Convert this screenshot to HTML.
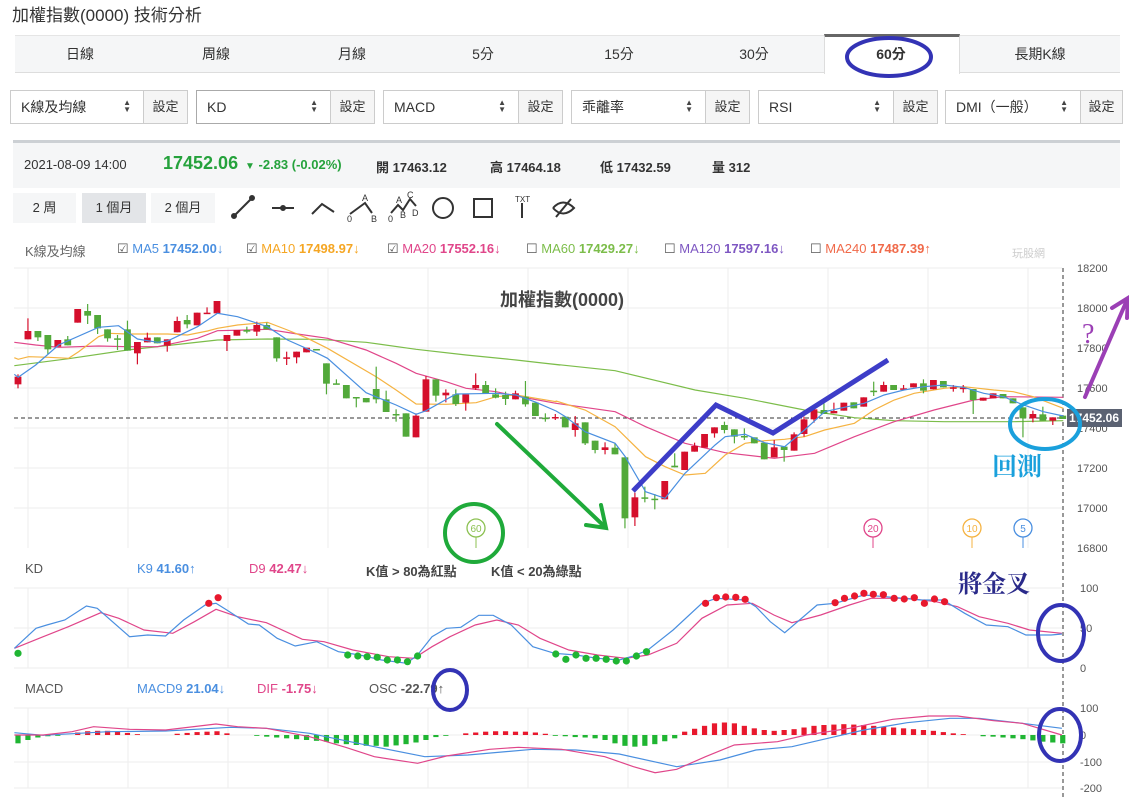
<!DOCTYPE html>
<html><head><meta charset="utf-8">
<style>
*{margin:0;padding:0;box-sizing:border-box}
body{width:1129px;height:797px;background:#fff;font-family:"Liberation Sans","Noto Sans CJK TC",sans-serif;color:#333;position:relative;overflow:hidden}
.a{position:absolute;white-space:nowrap}
.tab{position:absolute;top:35px;height:38px;line-height:38px;text-align:center;font-size:14px;color:#333}
.sel{position:absolute;top:90px;height:34px;border:1px solid #ccc;font-size:14px;line-height:32px;padding-left:10px;background:#fff}
.btn{position:absolute;top:90px;height:34px;border:1px solid #ccc;font-size:13px;line-height:32px;text-align:center;background:#f5f5f5;width:45px}
.arr{position:absolute;right:12px;top:8px;font-size:8px;line-height:7px;color:#444}
</style></head><body>
<div class="a" style="left:12px;top:1px;font-size:17px;color:#333">加權指數(0000) 技術分析</div>
<div class="a" style="left:15px;top:35px;width:1105px;height:38px;background:#f5f6f7;border-bottom:1px solid #ddd;border-top:1px solid #e5e5e5"></div>
<div class="a" style="left:824px;top:34px;width:136px;height:40px;background:#fff;border-top:3px solid #666;border-left:1px solid #ddd;border-right:1px solid #ddd"></div>
<div class="tab" style="left:15px;width:130px">日線</div>
<div class="tab" style="left:151px;width:130px">周線</div>
<div class="tab" style="left:287px;width:130px">月線</div>
<div class="tab" style="left:418px;width:130px">5分</div>
<div class="tab" style="left:554px;width:130px">15分</div>
<div class="tab" style="left:689px;width:130px">30分</div>
<div class="tab" style="left:826px;width:130px;font-weight:bold">60分</div>
<div class="tab" style="left:975px;width:130px">長期K線</div>

<div class="sel" style="left:10px;width:134px">K線及均線<span class="arr">▲<br>▼</span></div><div class="btn" style="left:143px">設定</div>
<div class="sel" style="left:196px;width:135px;border-color:#aaa">KD<span class="arr">▲<br>▼</span></div><div class="btn" style="left:330px">設定</div>
<div class="sel" style="left:383px;width:136px">MACD<span class="arr">▲<br>▼</span></div><div class="btn" style="left:518px">設定</div>
<div class="sel" style="left:571px;width:135px">乖離率<span class="arr">▲<br>▼</span></div><div class="btn" style="left:705px">設定</div>
<div class="sel" style="left:758px;width:136px">RSI<span class="arr">▲<br>▼</span></div><div class="btn" style="left:893px">設定</div>
<div class="sel" style="left:945px;width:136px">DMI（一般）<span class="arr">▲<br>▼</span></div><div class="btn" style="left:1080px;width:43px">設定</div>

<div class="a" style="left:13px;top:140px;width:1107px;height:48px;background:#f5f6f7;border-top:3px solid #ccd0d4"></div>
<div class="a" style="left:24px;top:157px;font-size:13px">2021-08-09 14:00</div>
<div class="a" style="left:163px;top:153px;font-size:18px;font-weight:bold;color:#25a23c">17452.06</div>
<div class="a" style="left:245px;top:157px;font-size:13px;color:#25a23c;font-weight:bold"><span style="font-size:10px">▼</span> -2.83 (-0.02%)</div>
<div class="a" style="left:376px;top:157px;font-size:13px;font-weight:bold">開 17463.12</div>
<div class="a" style="left:490px;top:157px;font-size:13px;font-weight:bold">高 17464.18</div>
<div class="a" style="left:600px;top:157px;font-size:13px;font-weight:bold">低 17432.59</div>
<div class="a" style="left:712px;top:157px;font-size:13px;font-weight:bold">量 312</div>

<div class="a" style="left:13px;top:193px;width:63px;height:30px;background:#f5f6f7;font-size:13px;line-height:30px;text-align:center">2 周</div>
<div class="a" style="left:82px;top:193px;width:64px;height:30px;background:#e3e5e8;font-size:13px;line-height:30px;text-align:center">1 個月</div>
<div class="a" style="left:151px;top:193px;width:64px;height:30px;background:#f5f6f7;font-size:13px;line-height:30px;text-align:center">2 個月</div>

<div class="a" style="left:25px;top:241px;font-size:13px;color:#666">K線及均線</div>
<div class="a" style="left:117px;top:241px;font-size:13px"><span style="color:#555">☑</span> <span style="color:#4a8fe0">MA5 <b>17452.00</b>↓</span></div>
<div class="a" style="left:246px;top:241px;font-size:13px"><span style="color:#555">☑</span> <span style="color:#f5a623">MA10 <b>17498.97</b>↓</span></div>
<div class="a" style="left:387px;top:241px;font-size:13px"><span style="color:#555">☑</span> <span style="color:#e0468a">MA20 <b>17552.16</b>↓</span></div>
<div class="a" style="left:526px;top:241px;font-size:13px"><span style="color:#555">☐</span> <span style="color:#7cbd4a">MA60 <b>17429.27</b>↓</span></div>
<div class="a" style="left:664px;top:241px;font-size:13px"><span style="color:#555">☐</span> <span style="color:#7e57c2">MA120 <b>17597.16</b>↓</span></div>
<div class="a" style="left:810px;top:241px;font-size:13px"><span style="color:#555">☐</span> <span style="color:#f06a4a">MA240 <b>17487.39</b>↑</span></div>
<div class="a" style="left:1012px;top:245px;font-size:11px;color:#ccc">玩股網</div>

<div class="a" style="left:25px;top:561px;font-size:13px;color:#555">KD</div>
<div class="a" style="left:137px;top:561px;font-size:13px;color:#4a8fe0">K9 <b>41.60</b>↑</div>
<div class="a" style="left:249px;top:561px;font-size:13px;color:#e0468a">D9 <b>42.47</b>↓</div>
<div class="a" style="left:366px;top:561px;font-size:13px;color:#444;font-weight:bold">K值 &gt; 80為紅點</div>
<div class="a" style="left:491px;top:561px;font-size:13px;color:#444;font-weight:bold">K值 &lt; 20為綠點</div>
<div class="a" style="left:25px;top:681px;font-size:13px;color:#555">MACD</div>
<div class="a" style="left:137px;top:681px;font-size:13px;color:#4a8fe0">MACD9 <b>21.04</b>↓</div>
<div class="a" style="left:257px;top:681px;font-size:13px;color:#e0468a">DIF <b>-1.75</b>↓</div>
<div class="a" style="left:369px;top:681px;font-size:13px;color:#555">OSC <b>-22.79</b>↑</div>

<svg id="s" class="a" style="left:0;top:0" width="1129" height="797" xmlns="http://www.w3.org/2000/svg"></svg>
<script>
const s=document.getElementById('s');let h='';
h+='<g stroke="#333" stroke-width="2" fill="none"><line x1="234" y1="216" x2="252" y2="198"/><circle cx="234" cy="216" r="2" fill="#333"/><circle cx="252" cy="198" r="2" fill="#333"/><line x1="272" y1="208" x2="294" y2="208"/><circle cx="283" cy="208" r="2" fill="#333"/><polyline points="312,214 322,204 334,212"/><polyline points="350,214 365,203 372,213"/><polyline points="391,213 398,205 403,210 410,199 416,206"/><circle cx="443" cy="208" r="10"/><rect x="474" y="199" width="18" height="18"/><line x1="522" y1="203" x2="522" y2="218"/><path d="M553 208 Q563 197 574 208 Q563 219 553 208 M556 217 L571 199"/></g>';
h+='<g font-size="9" fill="#333" font-family="Liberation Sans"><text x="362" y="201">A</text><text x="347" y="222">0</text><text x="371" y="222">B</text><text x="396" y="203">A</text><text x="407" y="198">C</text><text x="388" y="222">0</text><text x="400" y="218">B</text><text x="412" y="216">D</text><text x="515" y="202" font-size="8">TXT</text></g>';
for(let i=0;i<8;i++){let y=268+40*i;if(i<7)h+=`<line x1="14" y1="${y}" x2="1062" y2="${y}" stroke="#eee"/>`;}
for(let x=28;x<1062;x+=100){h+=`<line x1="${x}" y1="268" x2="${x}" y2="548" stroke="#eee"/><line x1="${x}" y1="588" x2="${x}" y2="668" stroke="#eee"/><line x1="${x}" y1="708" x2="${x}" y2="788" stroke="#eee"/>`;}
[588,628,668,708,735,762,788].forEach(y=>h+=`<line x1="14" y1="${y}" x2="1062" y2="${y}" stroke="#eee"/>`);
['18200','18000','17800','17600','17400','17200','17000','16800'].forEach((t,i)=>h+=`<text x="1077" y="${272+40*i}" font-size="11" fill="#555">${t}</text>`);
[['100',592],['50',632],['0',672],['100',712],['0',739],['-100',766],['-200',792]].forEach(a=>h+=`<text x="1080" y="${a[1]}" font-size="11" fill="#555">${a[0]}</text>`);
h+='<line x1="1063" y1="268" x2="1063" y2="797" stroke="#333" stroke-dasharray="4,3"/><line x1="14" y1="418" x2="1063" y2="418" stroke="#333" stroke-dasharray="4,3"/>';
h+='<text x="562" y="306" font-size="18" fill="#444" font-weight="bold" text-anchor="middle">加權指數(0000)</text>';
function z2(p){return p.map((v,i)=>i%2?270+v/3:v/2.8)}
function z3(p){return p.map((v,i)=>i%2?270+v/3:540+v/2.662)}
function pl(a,c,w){let s='';for(let i=0;i<a.length;i+=2)s+=a[i].toFixed(1)+','+a[i+1].toFixed(1)+' ';return `<polyline points="${s}" fill="none" stroke="${c}" stroke-width="${w||1.2}"/>`}
const ma60=z2([40,287,192,266,357,240,609,210,749,207,889,208,1025,217,1165,238,1305,255,1445,270,1568,285]).concat(z3([0,278,200,302,413,360,546,385,704,420,837,443,943,452,1076,455,1260,455,1393,452]));
const ma20=z2([40,217,100,225,164,232,276,228,357,230,441,230,553,205,609,182,693,180,749,178,833,192,917,205,1025,240,1109,280,1165,310,1249,335,1305,355,1389,365,1445,378,1557,400]).concat(z3([200,425,281,470,386,520,493,548,624,565,731,550,837,500,943,455,1049,420,1155,390,1234,380,1393,382]));
const ma10=z2([40,263,51,268,80,260,136,262,192,265,220,245,276,200,304,190,357,192,469,192,525,195,581,183,609,175,665,165,749,157,805,180,861,205,917,235,1053,320,1109,360,1165,402,1249,403,1333,398,1389,380,1445,375,1501,385,1557,395]).concat(z3([43,393,120,420,200,470,281,560,333,590,386,615,440,610,493,555,546,520,598,512,651,508,704,500,758,480,837,460,889,420,943,390,996,370,1076,355,1128,350,1208,360,1260,365,1313,380,1393,415]));
const ma5=z2([40,313,51,322,100,285,164,225,276,172,332,167,385,207,441,217,469,213,553,170,609,130,665,140,749,170,805,210,889,250,917,265,1025,368,1109,405,1165,433,1193,422,1277,372,1333,371,1389,370,1445,375,1501,397,1557,423]).concat(z3([68,440,120,485,200,520,227,560,281,665,333,685,386,610,466,525,493,500,546,493,598,518,651,530,704,480,758,425,810,412,863,400,916,375,969,360,1022,350,1076,345,1128,352,1181,370,1234,380,1287,405,1340,425,1393,438]));
h+=pl(ma60,'#7cbd4a')+pl(ma20,'#e0468a')+pl(ma10,'#f5b342');
const C=[['r',320,343,313,355],['r',183,208,145,208],['g',183,202,183,213],['g',195,238,195,252],['r',210,230],['g',208,226,198,226],['r',117,158],['g',123,137,102,162],['g',135,175,135,192],['g',178,205,178,215],['g',205,205,195,240],['g',178,242,152,242],['r',216,250,216,283],['r',203,217,188,217],['g',202,220],['r',208,227,208,245],['r',153,187,140,187],['g',150,163,135,175],['r',128,166],['r',128,128,112,130],['r',93,130],['r',195,213,195,243],['r',180,197],['g',180,185,170,190],['r',165,185,155,198],['g',165,178,158,178],['g',202,265,202,275],['r',262,262,245,285],['r',245,262,245,280],['r',233,247],['g',237,241],['g',280,341,280,373],['g',340,340,328,342],['g',345,385],['g',381,381,381,412],['g',384,397],['g',357,388,290,400],['g',388,426,362,426],['g',432,432,418,455],['g',430,500],['r',437,502,430,502],['r',328,425,318,425],['g',328,377,328,395],['r',368,376,358,397],['g',373,402,358,408],['r',373,398,373,422],['r',345,355,310,360],['g',345,372,333,372],['g',373,383,355,385],['g',375,387,365,405],['r',370,388,362,388],['g',380,403,333,410],['g',398,438],['g',443,443,430,455],['r',441,441,432,450],
['g',440,472],['r',460,480,438,500],['g',457,520,457,525],['g',512,540,512,550],['r',532,540,517,553],['g',533,553,520,553],['g',562,745,562,775],['r',682,742,668,768],['g',682,682,650,697],['g',686,686,672,718],['r',633,688],['g',587,592,550,592],['r',545,600],['r',528,545,518,545],['r',492,533],['r',472,490,472,503],['g',465,480,455,490],['g',478,500,478,520],['g',498,498,475,510],['g',502,520],['g',518,568],['r',532,562,510,562],['g',530,540,530,575],['r',493,542,487,542],['r',448,492,440,500],['r',418,448,418,458],['g',420,432,400,432],['r',423,430,398,430],['r',398,422],['g',397,415],['r',382,410],['g',362,362,335,378],['r',345,365,335,365],['g',345,360],['r',355,355,345,360],['r',340,352],['g',340,362,328,370],['r',330,358],['g',333,352],['r',352,352,345,365],['r',353,353,345,368],['g',357,390,357,432],['r',383,392],['r',370,385],['g',372,385],['g',385,400],['g',412,445,412,502],['r',432,445,422,457],['g',433,452,410,452],['r',442,452,442,465],['g',437,447]];
C.forEach((c,i)=>{const x=18+9.95*i,col=c[0]=='r'?'#d50f2c':'#52a93a';const t=270+c[1]/3,b=270+c[2]/3,wt=270+(c[3]??c[1])/3,wb=270+(c[4]??c[2])/3;
h+=`<line x1="${x}" y1="${wt}" x2="${x}" y2="${wb}" stroke="${col}" stroke-width="1.2"/>`;
h+=`<rect x="${x-3.4}" y="${t}" width="6.8" height="${Math.max(b-t,1.5)}" fill="${col}"/>`;});
h+=pl(ma5,'#4a8fe0');
h+='<rect x="1067" y="409" width="55" height="18" fill="#5b6272"/><text x="1094" y="422" font-size="12" fill="#fff" text-anchor="middle" font-weight="bold">17452.06</text>';
[[476,'60','#8cc152'],[873,'20','#e0468a'],[972,'10','#f5b342'],[1023,'5','#4a8fe0']].forEach(m=>h+=`<circle cx="${m[0]}" cy="528" r="9" fill="#fff" stroke="${m[2]}" stroke-width="1.3"/><text x="${m[0]}" y="532" font-size="10" fill="${m[2]}" text-anchor="middle">${m[1]}</text><line x1="${m[0]}" y1="537" x2="${m[0]}" y2="548" stroke="${m[2]}"/>`);
function z4(p){return p.map((v,i)=>i%2?550+v/3:v/1.389)}
const K=z4([20,295,50,235,65,225,90,210,120,168,135,175,180,260,205,255,230,258,255,210,285,165,300,160,315,180,345,222,360,225,385,265,410,288,440,275,470,305,500,315,530,330,565,340,580,315,600,260,620,235,640,232,665,196,685,196,710,225,740,290,770,310,800,315,830,325,860,330,880,318,900,300,935,240,975,160,995,145,1035,150,1050,170,1070,215,1090,248,1135,165,1160,160,1200,135,1230,140,1280,150,1310,150,1340,190,1370,225,1400,230,1425,255,1460,255,1475,252]);
const D=z4([20,295,60,260,95,230,140,188,165,205,200,240,240,250,270,215,300,178,330,200,370,218,420,268,450,275,490,300,540,320,575,325,600,290,625,260,660,225,690,210,720,225,750,265,790,300,830,315,870,325,900,315,940,280,975,205,1010,165,1045,160,1075,195,1100,218,1140,195,1180,165,1210,145,1260,145,1300,155,1330,170,1360,200,1400,220,1430,240,1475,250]);
h+=pl(D,'#e0468a')+pl(K,'#4a8fe0');
const RD=[290,160,303,143,980,160,995,143,1008,141,1022,142,1035,148,1160,158,1173,145,1187,138,1200,130,1213,133,1227,134,1242,145,1256,147,1270,143,1284,160,1298,147,1312,155];
const GD=[25,310,483,315,497,318,510,320,524,322,538,330,552,330,566,335,580,318,772,312,786,328,800,315,814,325,828,325,842,328,856,333,870,333,884,318,898,305];
for(let i=0;i<RD.length;i+=2)h+=`<circle cx="${RD[i]/1.389}" cy="${550+RD[i+1]/3}" r="3.6" fill="#e8182d"/>`;
for(let i=0;i<GD.length;i+=2)h+=`<circle cx="${GD[i]/1.389}" cy="${550+GD[i+1]/3}" r="3.6" fill="#1fb532"/>`;
const V=[-20,-12,-6,-3,-2,-1,6,9,10,10,8,5,2,1,0,-1,3,5,7,8,9,4,1,0,-2,-4,-6,-8,-10,-12,-14,-16,-20,-22,-24,-26,-26,-28,-25,-22,-18,-12,-5,-2,1,4,6,8,9,9,8,8,6,3,-2,-3,-5,-6,-8,-12,-20,-26,-28,-26,-22,-15,-8,8,15,22,28,30,28,22,16,12,10,12,14,18,22,24,25,26,25,24,22,20,18,16,14,12,10,7,4,2,-1,-3,-4,-6,-8,-10,-13,-16,-18,-20];
V.forEach((v,i)=>{const x=18+9.95*i,hh=Math.abs(v)/2.4;if(hh<0.5)return;h+=`<rect x="${x-2.6}" y="${v>0?735-hh:735}" width="5.2" height="${hh}" fill="${v>0?'#e8182d':'#1fb532'}"/>`});
const M9=z4([20,548,60,556,150,545,230,543,320,532,370,535,430,550,520,590,590,620,650,615,740,598,800,600,860,612,940,650,1000,630,1050,600,1100,590,1150,565,1200,540,1260,518,1320,505,1360,505,1420,520,1475,535]);
const DF=z4([20,555,60,555,100,545,130,530,180,538,230,540,300,522,330,530,370,535,430,560,480,592,520,620,580,640,620,618,680,598,720,592,780,598,840,620,880,650,910,668,940,658,980,620,1020,585,1080,575,1120,555,1180,535,1240,508,1290,498,1330,498,1380,512,1420,520,1475,555]);
h+=pl(M9,'#4a8fe0')+pl(DF,'#e0468a');
h+='<ellipse cx="889" cy="57" rx="42" ry="19" fill="none" stroke="#3333b5" stroke-width="4"/>';
h+='<g stroke="#1faa3a" stroke-width="4" fill="none" stroke-linecap="round"><line x1="497" y1="424" x2="605" y2="527"/><polyline points="586,525 606,528 601,505"/><circle cx="474" cy="533" r="29"/></g>';
h+='<polyline points="633,491 716,405 773,433 888,360" fill="none" stroke="#3d3dc8" stroke-width="5"/>';
h+='<ellipse cx="1045" cy="424" rx="35" ry="25" fill="none" stroke="#1aa0dc" stroke-width="4"/>';
h+='<text x="992" y="475" font-size="25" font-weight="bold" fill="#1aa0dc" font-family="Noto Serif CJK SC,serif">回測</text>';
h+='<g stroke="#9b3fb5" stroke-width="4" fill="none" stroke-linecap="round"><line x1="1085" y1="397" x2="1127" y2="300"/><polyline points="1112,308 1128,298 1127,318"/></g>';
h+='<text x="1082" y="343" font-size="28" fill="#9b3fb5" font-family="Liberation Serif,serif">?</text>';
h+='<text x="958" y="592" font-size="24" font-weight="bold" fill="#2a2a8a" font-family="Noto Serif CJK SC,serif">將金叉</text>';
h+='<ellipse cx="1061" cy="633" rx="23" ry="28" fill="none" stroke="#3333b5" stroke-width="4"/>';
h+='<ellipse cx="450" cy="690" rx="17" ry="20" fill="none" stroke="#3333b5" stroke-width="4"/>';
h+='<ellipse cx="1060" cy="735" rx="21" ry="26" fill="none" stroke="#3333b5" stroke-width="4"/>';
s.innerHTML=h;
</script>
</body></html>
